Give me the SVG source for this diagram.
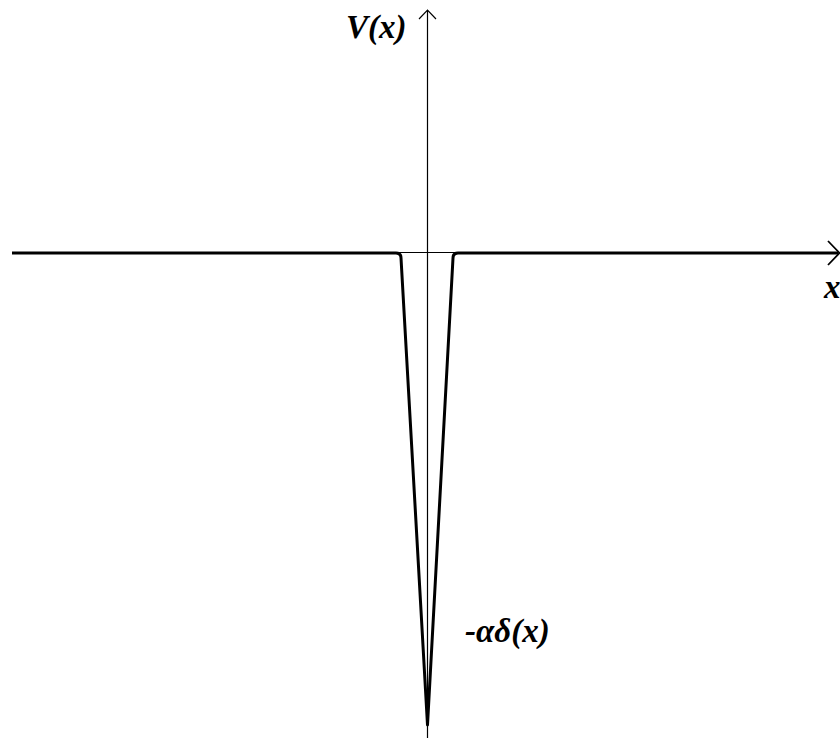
<svg xmlns="http://www.w3.org/2000/svg" width="840" height="738" viewBox="0 0 840 738">
<style>
.thin{stroke:#000;stroke-width:1.2;fill:none}
.thick{stroke:#000;stroke-width:3;fill:none;stroke-linejoin:round}
.lbl{font-family:"Liberation Serif","Times New Roman","DejaVu Serif",serif;font-style:italic;font-weight:bold;fill:#000}
</style>
<rect width="840" height="738" fill="#fff"/>
<g id="connectors">
<path class="thin" d="M427.5,738 V10 M419,19 L427.5,10 L436,19"/>
<path class="thin" d="M398,252.5 H456"/>
<path class="thick" d="M12,253 H396 Q401,253 401,258 L427.5,725 L453,258 Q453,253 458,253 H838"/>
<path class="thin" d="M828,241 L839.5,253 L828,265" style="stroke-width:1.8"/>
</g>
<g id="label-V"><text class="lbl" x="346" y="38" font-size="33">V(x)</text></g>
<g id="label-x"><text class="lbl" x="824" y="298" font-size="33">x</text></g>
<g id="label-delta"><text class="lbl" x="465" y="642" font-size="33">-αδ(x)</text></g>
</svg>
